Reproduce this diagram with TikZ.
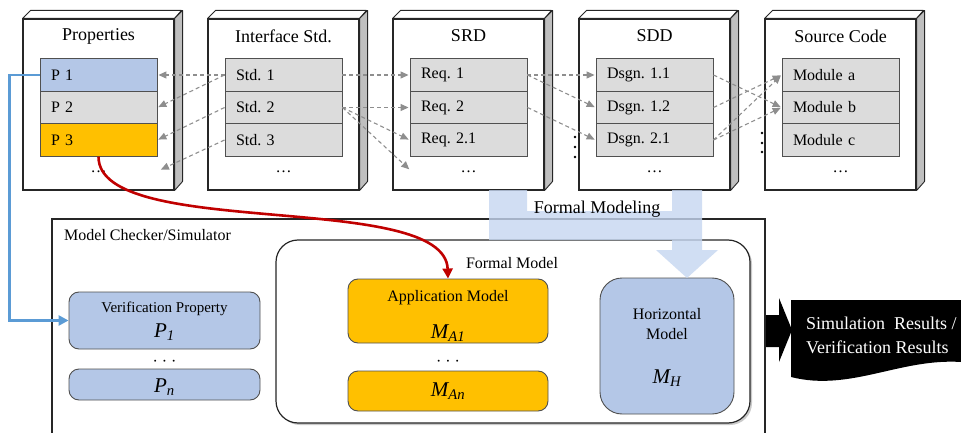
\documentclass[tikz,border=0pt]{standalone}
\usepackage{fontspec}
\setmainfont{Liberation Serif}
\usepackage{xcolor}
\usepackage{tikz}
\usetikzlibrary{arrows.meta,shadows}

\definecolor{pblue}{HTML}{B4C7E7}
\definecolor{pgold}{HTML}{FFC000}
\definecolor{pgray}{HTML}{DCDCDC}
\definecolor{edgegray}{HTML}{505050}
\definecolor{linkgray}{HTML}{8E8E8E}
\definecolor{lineblue}{HTML}{5B9BD5}
\definecolor{linered}{HTML}{C00000}
\definecolor{bandblue}{HTML}{C5D6F0}

\tikzset{
  docface/.style={draw=black!85, line width=1.1pt, fill=white, minimum width=151pt, minimum height=171pt, inner sep=0pt},
  docside/.style={draw=black!85, line width=0.9pt, fill=black!25, line join=round},
  doctop/.style={draw=black!85, line width=0.9pt, fill=white, line join=round},
  doctitle/.style={font=\fontsize{18}{20}\selectfont},
  rowbox/.style={draw=edgegray, line width=0.9pt, fill=pgray, minimum height=32.5pt, text width=95pt, inner xsep=11pt, inner ysep=0pt, align=left, font=\fontsize{16}{18}\selectfont},
  link/.style={draw=linkgray, line width=1.1pt, dash pattern=on 4pt off 3pt, -{Triangle[length=8pt,width=7pt]}, shorten >=1pt},
  lbl/.style={font=\fontsize{16}{20}\selectfont, inner sep=0pt},
  sym/.style={font=\fontsize{21}{24}\selectfont\itshape, inner sep=0pt},
  softbox/.style={draw=edgegray, line width=0.9pt, rounded corners=10pt, inner sep=0pt},
  fmbox/.style={draw=black!85, line width=1.2pt, rounded corners=22pt, fill=white, inner sep=0pt,
    drop shadow={shadow xshift=2pt, shadow yshift=-2pt, opacity=0.35, fill=black!60}},
}

\begin{document}
\frenchspacing
\begin{tikzpicture}[x=1pt, y=-1pt]
  \useasboundingbox (0,0) rectangle (961,433);

  % Document stacks
  \foreach \x/\name/\title in {98.5/prop/Properties, 283.5/std/Interface Std., 468.5/srd/SRD, 654.5/sdd/SDD, 840.5/src/Source Code} {
    \node[docface] (\name) at (\x,104.5) {};
    \draw[doctop] (\name.north west) -- ++(8,-8) -- ++(151,0) -- (\name.north east) -- cycle;
    \draw[docside] (\name.north east) -- ++(8,-8) -- ++(0,171) -- (\name.south east) -- cycle;
    \node[doctitle] (\name-title) at (\x,36) {\title};
    \node[lbl] (\name-dots) at (\x,172) {\dots};
  }

  \node[rowbox, fill=pblue] (p1) at (98.5,75) {P 1};
  \node[rowbox] (p2) at (98.5,107.5) {P 2};
  \node[rowbox, fill=pgold] (p3) at (98.5,140) {P 3};

  \node[rowbox] (s1) at (283.5,75) {Std. 1};
  \node[rowbox] (s2) at (283.5,107.5) {Std. 2};
  \node[rowbox] (s3) at (283.5,140) {Std. 3};

  \node[rowbox] (r1) at (468.5,75) {Req. 1};
  \node[rowbox] (r2) at (468.5,107.5) {Req. 2};
  \node[rowbox] (r3) at (468.5,140) {Req. 2.1};

  \node[rowbox] (d1) at (654.5,75) {Dsgn. 1.1};
  \node[rowbox] (d2) at (654.5,107.5) {Dsgn. 1.2};
  \node[rowbox] (d3) at (654.5,140) {Dsgn. 2.1};

  \node[rowbox] (m1) at (840.5,75) {Module a};
  \node[rowbox] (m2) at (840.5,107.5) {Module b};
  \node[rowbox] (m3) at (840.5,140) {Module c};

  \coordinate (pend) at (160,170);
  \coordinate (rend) at (410,170);

  % Trace links
  \draw[link] (s1.west) -- (p1.east);
  \draw[link] (s1.west) -- (p2.east);
  \draw[link] (s2.west) -- (p3.east);
  \draw[link] (s3.west) -- (pend);

  \draw[link] (s1.east) -- (r1.west);
  \draw[link] (s2.east) -- (r2.west);
  \draw[link] (s2.east) -- (r3.west);
  \draw[link] (s2.east) -- (rend);

  \draw[link] (r1.east) -- (d1.west);
  \draw[link] (r1.east) -- (d2.west);
  \draw[link] (r2.east) -- (d3.west);

  \draw[link] (d1.east) -- (m2.west);
  \draw[link] (d2.east) -- (m1.west);
  \draw[link] (d3.east) -- (m1.west);
  \draw[link] (d3.east) -- (m2.west);

  \foreach \y in {137,147,157} \fill (575,\y) circle (1.4pt);
  \foreach \y in {133,143,152} \fill (762,\y) circle (1.4pt);

  % Model checker
  \draw[black!85, line width=1.2pt] (52,440) |- (765,219) -- (765,440);
  \node[lbl, anchor=west] (mc) at (64,235) {Model Checker/Simulator};

  \node[fmbox, minimum width=474pt, minimum height=183pt] (fm) at (513,331.5) {};
  \node[lbl] (fm-title) at (512,263) {Formal Model};

  \node[softbox, fill=pblue, minimum width=191pt, minimum height=57pt] (vp) at (164.5,320.5) {};
  \node[lbl, font=\fontsize{15}{18}\selectfont] (vp-title) at (164.5,309) {Verification Property};
  \node[sym] (vp-sym) at (164.5,332) {P\textsubscript{1}};
  \node[lbl] (vp-dots) at (164.5,363) {· · ·};
  \node[softbox, fill=pblue, minimum width=191pt, minimum height=31pt] (pn) at (164.5,384.5) {};
  \node[sym] (pn-sym) at (164.5,387) {P\textsubscript{n}};

  \node[softbox, fill=pgold, minimum width=200pt, minimum height=64pt] (app) at (448,311) {};
  \node[lbl] (app-title) at (448,298) {Application Model};
  \node[sym] (app-sym) at (448,333) {M\textsubscript{A1}};
  \node[lbl] (app-dots) at (448,363) {· · ·};
  \node[softbox, fill=pgold, minimum width=200pt, minimum height=40pt] (an) at (448,391) {};
  \node[sym] (an-sym) at (448,391) {M\textsubscript{An}};

  \node[softbox, rounded corners=22pt, fill=pblue, minimum width=134pt, minimum height=136pt] (hm) at (667,346) {};
  \node[lbl, align=center, font=\fontsize{16}{20}\selectfont] (hm-title) at (667,324) {Horizontal\\Model};
  \node[sym] (hm-sym) at (667,378) {M\textsubscript{H}};

  % Formal modeling band
  \fill[bandblue, opacity=0.8] (489,190) -- (527,190) -- (527,211) -- (672,211) -- (672,190) -- (702,190)
    -- (702,250) -- (718,250) -- (687,278) -- (656,250) -- (672,250) -- (672,240) -- (489,240) -- cycle;
  \node[lbl, font=\fontsize{18}{20}\selectfont] (fml) at (597,209) {Formal Modeling};

  % Results
  \fill[black] (766,315) -- (779,315) -- (779,298) -- (792,330) -- (779,362) -- (779,347) -- (766,347) -- cycle;
  \fill[black] (791,300) -- (961,300) -- (961,362) .. controls (900,358) and (850,392) .. (791,377) -- cycle;
  \node[anchor=west, align=left, text=white, inner sep=0pt, font=\fontsize{18}{24}\selectfont] (res) at (806,335)
    {Simulation\ \ Results /\\Verification Results};

  % Property flows
  \draw[lineblue, line width=2.6pt, -{Triangle[length=10pt,width=10pt]}] (p1.west) -- ++(-30,0) |- (vp.west);
  \draw[linered, line width=2.6pt, -{Triangle[length=10pt,width=10pt]}] (p3.south) .. controls +(0,84) and +(-3,-89) .. (app.north);
\end{tikzpicture}
\end{document}
